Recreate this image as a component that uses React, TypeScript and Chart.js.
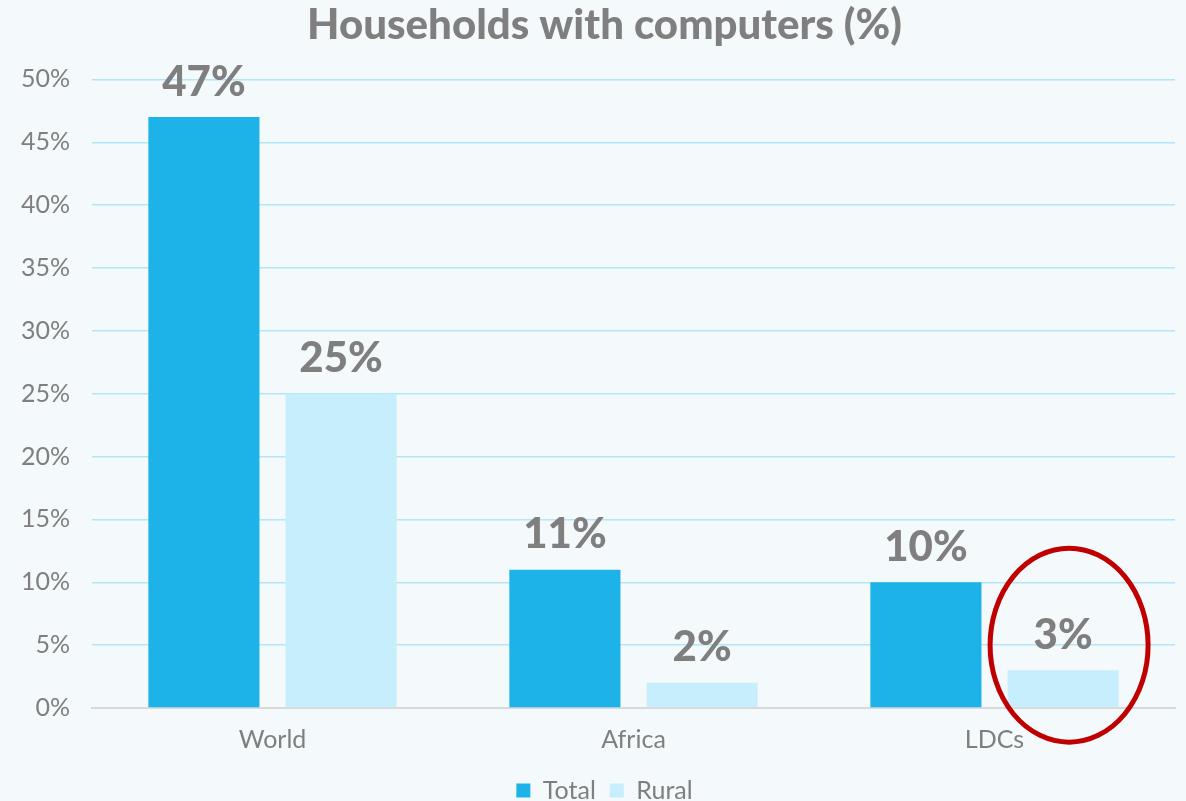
import React, { useEffect, useRef } from "react";
import { Chart, registerables } from "chart.js";

Chart.register(...registerables);

const categories = ["World", "Africa", "LDCs"];
const totalValues = [47, 11, 10];
const ruralValues = [25, 2, 3];
const seriesNames = ["Total", "Rural"];
const yTicks = [0, 5, 10, 15, 20, 25, 30, 35, 40, 45, 50];

const GRAY = "#7F7F7F";
const FONT = "Lato, 'Open Sans', sans-serif";

const labelPlugin = {
  id: "barLabels",
  afterDatasetsDraw(chart: any) {
    const ctx = chart.ctx;
    ctx.save();
    ctx.fillStyle = GRAY;
    ctx.font = `900 42px ${FONT}`;
    ctx.textAlign = "center";
    ctx.textBaseline = "middle";
    chart.data.datasets.forEach((ds: any, di: number) => {
      const meta = chart.getDatasetMeta(di);
      meta.data.forEach((bar: any, i: number) => {
        ctx.fillText(ds.data[i] + "%", bar.x, bar.y - 35);
      });
    });
    ctx.restore();
  },
};

const ellipsePlugin = {
  id: "highlightEllipse",
  afterDraw(chart: any) {
    const meta = chart.getDatasetMeta(1);
    const bar: any = meta.data[2];
    if (!bar) return;
    const yScale = chart.scales.y;
    const cx = bar.x + 6;
    const cy = yScale.getPixelForValue(5);
    const ctx = chart.ctx;
    ctx.save();
    ctx.strokeStyle = "#C00000";
    ctx.lineWidth = 5;
    ctx.beginPath();
    ctx.ellipse(cx, cy, 79, 97, 0, 0, Math.PI * 2);
    ctx.stroke();
    ctx.restore();
  },
};

export default function App() {
  const ref = useRef<HTMLCanvasElement>(null);
  useEffect(() => {
    document.body.style.margin = "0";
    const chart = new Chart(ref.current!, {
      type: "bar",
      data: {
        labels: categories,
        datasets: [
          {
            label: seriesNames[0],
            data: totalValues,
            backgroundColor: "#1DB3E9",
            categoryPercentage: 0.76,
            barPercentage: 0.81,
          },
          {
            label: seriesNames[1],
            data: ruralValues,
            backgroundColor: "#C7EEFC",
            categoryPercentage: 0.76,
            barPercentage: 0.81,
          },
        ],
      },
      options: {
        animation: false,
        responsive: true,
        maintainAspectRatio: false,
        layout: { padding: { left: 34, right: 11, top: 0, bottom: -12 } },
        plugins: {
          title: {
            display: true,
            text: "Households with computers (%)",
            color: GRAY,
            font: { family: FONT, size: 42, weight: "900" },
            padding: { top: 0, bottom: 29 },
          },
          legend: {
            position: "bottom",
            labels: {
              color: GRAY,
              font: { family: FONT, size: 25 },
              boxWidth: 14,
              boxHeight: 14,
              padding: 14,
            },
          },
          tooltip: { enabled: false },
        },
        scales: {
          x: {
            grid: { display: false },
            border: { color: "#D9D9D9", width: 2 },
            ticks: { color: GRAY, font: { family: FONT, size: 25 }, padding: 9 },
          },
          y: {
            min: 0,
            max: 50,
            afterBuildTicks(axis: any) {
              axis.ticks = yTicks.map((v) => ({ value: v }));
            },
            afterFit(axis: any) {
              axis.width = 58;
              axis._computeLabelArea = () => undefined;
            },
            grid: { color: "#B5E6F7", lineWidth: 1.5, drawTicks: false },
            border: { display: false },
            ticks: {
              color: GRAY,
              font: { family: FONT, size: 25 },
              padding: 22,
              callback: (v: any) => v + "%",
            },
          },
        },
      },
      plugins: [labelPlugin, ellipsePlugin],
    });
    return () => chart.destroy();
  }, []);
  return (
    <div style={{ width: 1186, height: 801, background: "#F4F9FC" }}>
      <canvas ref={ref} />
    </div>
  );
}
